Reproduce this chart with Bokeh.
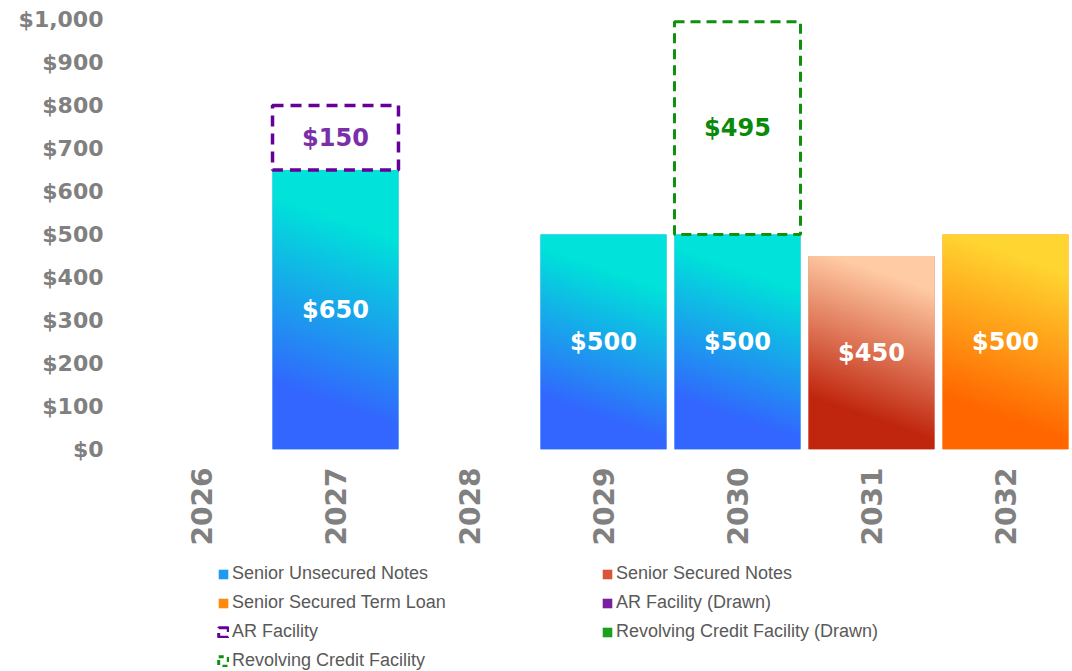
import numpy as np
from bokeh.plotting import figure
from bokeh.layouts import column
from bokeh.models import (ColumnDataSource, FixedTicker, NumeralTickFormatter,
                          Legend, LegendItem, Range1d)
from bokeh.core.properties import value
from bokeh.embed import file_html
from bokeh.resources import INLINE

# ---------------- data ----------------
years = ["2026", "2027", "2028", "2029", "2030", "2031", "2032"]

unsecured_years = ["2027", "2029", "2030"]
unsecured_vals = [650, 500, 500]

secured_years = ["2031"]
secured_vals = [450]

term_years = ["2032"]
term_vals = [500]

ar_drawn_years = ["2027"]
ar_drawn_vals = [0]

ar_years = ["2027"]
ar_vals = [150]

rcf_drawn_years = ["2030"]
rcf_drawn_vals = [0]

rcf_years = ["2030"]
rcf_vals = [495]

y_ticks = [0, 100, 200, 300, 400, 500, 600, 700, 800, 900, 1000]

# ---------------- helpers ----------------
BAR_W = 0.94
PX_PER_X = 134.0
PX_PER_Y = 0.43


def xpos(yrs):
    return [years.index(y) for y in yrs]


def base_of(yrs):
    out = []
    for y in yrs:
        b = 0
        if y in unsecured_years:
            b += unsecured_vals[unsecured_years.index(y)]
        if y in secured_years:
            b += secured_vals[secured_years.index(y)]
        if y in term_years:
            b += term_vals[term_years.index(y)]
        out.append(b)
    return out


def hex2rgb(h):
    h = h.lstrip("#")
    return np.array([int(h[i:i + 2], 16) for i in (0, 2, 4)], dtype=float)


def gradient(val, c0, c1, s0=0.2, s1=0.78, k=0.35, nx=64, ny=128):
    w_px = BAR_W * PX_PER_X
    h_px = val * PX_PER_Y
    u = np.linspace(0, 1, nx)[None, :]
    v = np.linspace(0, 1, ny)[:, None]
    t = (v * h_px + k * u * w_px) / (h_px + k * w_px)
    t = np.clip((t - s0) / (s1 - s0), 0, 1)
    a, b = hex2rgb(c0), hex2rgb(c1)
    rgb = a[None, None, :] * (1 - t[..., None]) + b[None, None, :] * t[..., None]
    img = np.empty((ny, nx), dtype=np.uint32)
    view = img.view(dtype=np.uint8).reshape((ny, nx, 4))
    view[..., 0] = rgb[..., 0].astype(np.uint8)
    view[..., 1] = rgb[..., 1].astype(np.uint8)
    view[..., 2] = rgb[..., 2].astype(np.uint8)
    view[..., 3] = 255
    return img


FONT = value("DejaVu Sans")
GRAY = "#808080"
PURPLE = "#660099"
GREEN = "#0F900F"
C_UNSEC = "#1E9BF0"
C_SEC = "#D9553A"
C_TERM = "#FF8A10"
C_ARDR = "#7B1FA2"
C_RCFDR = "#1BA01B"

p = figure(width=1072, height=549, output_backend="svg", toolbar_location=None,
           x_range=Range1d(-0.5, 6.5), y_range=Range1d(0, 1000),
           min_border_left=134, min_border_right=0, min_border_top=19,
           min_border_bottom=100)
p.outline_line_color = None
p.xgrid.grid_line_color = None
p.ygrid.grid_line_color = None
p.background_fill_color = "white"
p.border_fill_color = "white"

# ---------------- funded bars (solid base + gradient) ----------------
series = [
    (unsecured_years, unsecured_vals, C_UNSEC, "#3366FF", "#00E2DA", 0.2, 0.78),
    (secured_years, secured_vals, C_SEC, "#C0260E", "#FFCBA4", 0.22, 0.85),
    (term_years, term_vals, C_TERM, "#FF6600", "#FFD631", 0.2, 0.85),
]
for yrs, vals, mid, c0, c1, s0, s1 in series:
    src = ColumnDataSource(dict(x=xpos(yrs), top=vals))
    p.vbar(x="x", top="top", bottom=0, width=BAR_W, source=src,
           fill_color=mid, line_color=None)
    imgs = [gradient(v, c0, c1, s0, s1) for v in vals]
    p.image_rgba(image=imgs, x=[xi - BAR_W / 2 for xi in xpos(yrs)],
                 y=[0] * len(vals), dw=[BAR_W] * len(vals), dh=vals)

# drawn facility amounts (zero)
p.vbar(x=xpos(ar_drawn_years),
       top=[b + v for b, v in zip(base_of(ar_drawn_years), ar_drawn_vals)],
       bottom=base_of(ar_drawn_years), width=BAR_W,
       fill_color=C_ARDR, line_color=None)
p.vbar(x=xpos(rcf_drawn_years),
       top=[b + v for b, v in zip(base_of(rcf_drawn_years), rcf_drawn_vals)],
       bottom=base_of(rcf_drawn_years), width=BAR_W,
       fill_color=C_RCFDR, line_color=None)

# undrawn facilities (dashed outlines)
ar_base = base_of(ar_years)
p.vbar(x=xpos(ar_years), bottom=ar_base,
       top=[b + v for b, v in zip(ar_base, ar_vals)], width=BAR_W,
       fill_alpha=0, line_color=PURPLE, line_width=3.5, line_dash="11 7")
rcf_base = base_of(rcf_years)
p.vbar(x=xpos(rcf_years), bottom=rcf_base,
       top=[b + v for b, v in zip(rcf_base, rcf_vals)], width=BAR_W,
       fill_alpha=0, line_color=GREEN, line_width=3, line_dash="10 6")

# ---------------- value labels ----------------
lab_x, lab_y, lab_t = [], [], []
for yrs, vals, *_ in series:
    for xi, v in zip(xpos(yrs), vals):
        lab_x.append(xi)
        lab_y.append(v / 2)
        lab_t.append(f"${v:,}")
p.text(x=lab_x, y=lab_y, text=lab_t, text_color="white", text_font=FONT,
       text_font_style="bold", text_font_size="24px", text_align="center",
       text_baseline="middle")
p.text(x=xpos(ar_years), y=[b + v / 2 for b, v in zip(ar_base, ar_vals)],
       text=[f"${v:,}" for v in ar_vals], text_color="#7A2FA8", text_font=FONT,
       text_font_style="bold", text_font_size="24px", text_align="center",
       text_baseline="middle")
p.text(x=xpos(rcf_years), y=[b + v / 2 for b, v in zip(rcf_base, rcf_vals)],
       text=[f"${v:,}" for v in rcf_vals], text_color="#0A8A0A", text_font=FONT,
       text_font_style="bold", text_font_size="24px", text_align="center",
       text_baseline="middle")

# ---------------- axes ----------------
p.yaxis.ticker = FixedTicker(ticks=y_ticks)
p.yaxis.formatter = NumeralTickFormatter(format="$0,0")
p.yaxis.axis_line_color = None
p.yaxis.major_tick_line_color = None
p.yaxis.minor_tick_line_color = None
p.yaxis.major_label_standoff = 25
p.yaxis.major_label_text_font = "DejaVu Sans"
p.yaxis.major_label_text_font_style = "bold"
p.yaxis.major_label_text_font_size = "22px"
p.yaxis.major_label_text_color = GRAY

p.xaxis.ticker = FixedTicker(ticks=list(range(len(years))))
p.xaxis.major_label_overrides = {i: y for i, y in enumerate(years)}
p.xaxis.major_label_orientation = np.pi / 2
p.xaxis.axis_line_color = None
p.xaxis.major_tick_line_color = None
p.xaxis.minor_tick_line_color = None
p.xaxis.major_label_standoff = 12
p.xaxis.major_label_text_font = "DejaVu Sans"
p.xaxis.major_label_text_font_style = "bold"
p.xaxis.major_label_text_font_size = "28px"
p.xaxis.major_label_text_color = GRAY

# ---------------- legend panel (second figure, same series styling) ----------------
q = figure(width=1072, height=122, output_backend="svg", toolbar_location=None,
           x_range=Range1d(0, 1), y_range=Range1d(0, 1),
           min_border_left=0, min_border_right=0, min_border_top=0,
           min_border_bottom=0)
q.axis.visible = False
q.grid.visible = False
q.outline_line_color = None
q.background_fill_color = "white"
q.border_fill_color = "white"

# legend swatches: zero-size placeholder marks (nothing drawn in the panel)
off = dict(x=[0.5], top=[0.5], bottom=[0.5], width=0)
lg_unsec = q.vbar(**off, fill_color=C_UNSEC, line_color=None)
lg_sec = q.vbar(**off, fill_color=C_SEC, line_color=None)
lg_term = q.vbar(**off, fill_color=C_TERM, line_color=None)
lg_ardr = q.vbar(**off, fill_color=C_ARDR, line_color=None)
lg_ar = q.vbar(**off, fill_alpha=0, line_color=PURPLE, line_width=3,
               line_dash="14 5")
lg_rcfdr = q.vbar(**off, fill_color=C_RCFDR, line_color=None)
lg_rcf = q.vbar(**off, fill_alpha=0, line_color=GREEN, line_width=3,
                line_dash="5 5")

# two columns, filled column by column
items = [
    LegendItem(label="Senior Unsecured Notes", renderers=[lg_unsec]),
    LegendItem(label="Senior Secured Term Loan", renderers=[lg_term]),
    LegendItem(label="AR Facility", renderers=[lg_ar]),
    LegendItem(label="Revolving Credit Facility", renderers=[lg_rcf]),
    LegendItem(label="Senior Secured Notes", renderers=[lg_sec]),
    LegendItem(label="AR Facility (Drawn)", renderers=[lg_ardr]),
    LegendItem(label="Revolving Credit Facility (Drawn)", renderers=[lg_rcfdr]),
]
legend = Legend(items=items, orientation="vertical", nrows=4,
                location=(83, 0), padding=0, margin=0, spacing=8,
                glyph_width=12, glyph_height=12, label_standoff=3,
                label_width=361, label_height=20,
                label_text_font="Liberation Sans", label_text_font_size="18px",
                label_text_color="#595959", border_line_color=None,
                background_fill_alpha=0)
q.add_layout(legend, "center")

layout = column(p, q, spacing=0)
open("out.html", "w").write(file_html(layout, INLINE))
